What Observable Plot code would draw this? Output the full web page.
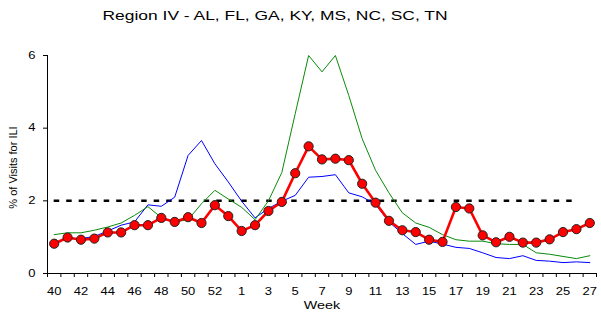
<!DOCTYPE html>
<html>
<head>
<meta charset="utf-8">
<script src="https://cdn.jsdelivr.net/npm/d3@7"></script>
<script src="https://cdn.jsdelivr.net/npm/@observablehq/plot@0.6"></script>
<style>
  html, body { margin: 0; padding: 0; background: #fff; }
</style>
</head>
<body>
<div id="chart"></div>
<script>
const title = "Region IV - AL, FL, GA, KY, MS, NC, SC, TN";
const yTitle = "% of Visits for ILI";
const xTitle = "Week";

// Surveillance weeks (season with a week 53)
const weeks = [40,41,42,43,44,45,46,47,48,49,50,51,52,53,
               1,2,3,4,5,6,7,8,9,10,11,12,13,14,15,16,17,18,19,20,21,22,23,24,25,26,27];

// Current season (red with markers)
const current = [0.82,0.99,0.93,0.96,1.13,1.13,1.33,1.33,1.53,1.42,1.55,1.39,1.88,1.58,
                 1.17,1.33,1.72,1.97,2.76,3.50,3.14,3.16,3.12,2.47,1.95,1.45,1.19,1.14,
                 0.93,0.87,1.83,1.79,1.05,0.86,1.01,0.85,0.85,0.94,1.14,1.22,1.39];

// Previous season (green)
const seasonGreen = [1.07,1.12,1.12,1.19,1.28,1.39,1.60,1.84,1.54,1.42,1.48,1.92,2.29,2.05,
                     1.82,1.48,2.00,2.78,4.40,6.00,5.55,6.00,4.90,3.71,2.84,2.22,1.67,1.39,
                     1.27,1.07,0.93,0.89,0.89,0.82,0.80,0.80,0.57,0.53,0.47,0.41,0.49];

// Another previous season (blue)
const seasonBlue = [0.85,0.96,0.96,1.02,1.17,1.33,1.42,1.89,1.85,2.10,3.25,3.66,3.02,2.52,
                    1.99,1.53,1.79,1.99,2.15,2.65,2.67,2.72,2.22,2.11,1.90,1.42,1.10,0.80,
                    0.89,0.81,0.72,0.69,0.57,0.44,0.41,0.49,0.36,0.34,0.30,0.32,0.30];

const yTicks = [0, 2, 4, 6];
const baseline = 2.0;

const rows = weeks.map((w, i) => ({
  i, week: w, red: current[i], green: seasonGreen[i], blue: seasonBlue[i]
}));
const labelIdx = weeks.map((w, i) => i).filter(i => i % 2 === 0);
const tickEdges = d3.range(-0.5, weeks.length, 1);

const chart = Plot.plot({
  width: 601,
  height: 316,
  marginTop: 55,
  marginBottom: 43,
  marginLeft: 47,
  marginRight: 5,
  style: {
    fontFamily: "'Liberation Sans', Arial, sans-serif",
    fontSize: "10px",
    color: "#000",
    background: "#fff",
    overflow: "visible"
  },
  x: { type: "linear", domain: [-0.5, weeks.length - 0.5], label: null },
  y: { domain: [0, 6], label: null },
  marks: [
    // axes
    Plot.ruleY([0], { stroke: "#000", strokeWidth: 1 }),
    Plot.ruleX([-0.5], { stroke: "#000", strokeWidth: 1 }),
    Plot.axisX(tickEdges, { tickSize: 4, tickFormat: () => "", label: null }),
    Plot.axisX(labelIdx, { tickSize: 0, tickPadding: 14, tickFormat: i => String(weeks[i]), label: null, fontSize: 10 }),
    Plot.axisY(yTicks, { tickSize: 4, tickPadding: 8, label: null, fontSize: 10 }),
    // reference line
    Plot.ruleY([baseline], { x1: 0, x2: weeks.length - 1.9, stroke: "#000", strokeWidth: 2.5, strokeDasharray: "5.5,7" }),
    // series
    Plot.line(rows, { x: "i", y: "blue", stroke: "#0000ff", strokeWidth: 1 }),
    Plot.line(rows, { x: "i", y: "green", stroke: "#0a8a0a", strokeWidth: 1 }),
    Plot.line(rows, { x: "i", y: "red", stroke: "#ff0000", strokeWidth: 2.6 }),
    Plot.dot(rows, { x: "i", y: "red", r: 4.6, fill: "#ff0000", stroke: "#222", strokeWidth: 1 }),
    // titles
    Plot.text([title], { frameAnchor: "top", lineAnchor: "middle", dy: -40, dx: -47, fontSize: 13.5, fill: "#000" }),
    Plot.text([xTitle], { frameAnchor: "bottom", lineAnchor: "middle", dy: 32.4, fontSize: 11, fill: "#000" }),
    Plot.text([yTitle], { frameAnchor: "left", textAnchor: "middle", lineAnchor: "middle", rotate: -90, dx: -34, dy: 3, fontSize: 11, fill: "#000" })
  ]
});

// widen horizontal glyphs like the original renderer
chart.querySelectorAll("text").forEach(t => {
  const tr = t.getAttribute("transform") || "";
  if (tr.includes("rotate")) return;
  if (t.textContent === title) {
    t.setAttribute("textLength", 345);
    t.setAttribute("lengthAdjust", "spacingAndGlyphs");
    return;
  }
  if (tr.includes("translate")) {
    t.setAttribute("transform", tr + " scale(1.3,1)");
  } else {
    const x = +t.getAttribute("x") || 0, y = +t.getAttribute("y") || 0;
    t.setAttribute("transform", `translate(${x},${y}) scale(1.3,1) translate(${-x},${-y})`);
  }
});

document.getElementById("chart").appendChild(chart);
</script>
</body>
</html>
